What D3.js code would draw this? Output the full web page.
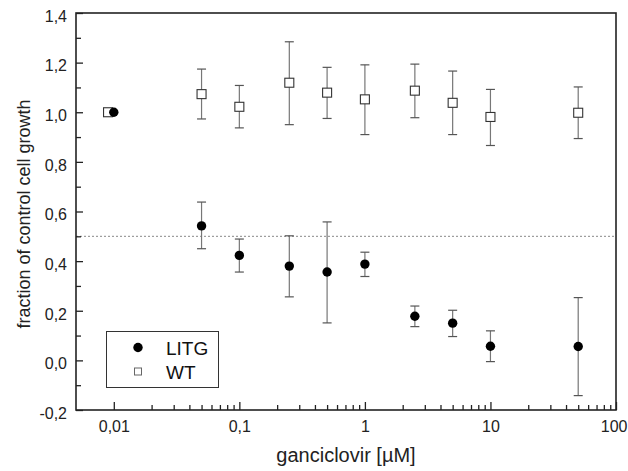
<!DOCTYPE html>
<html>
<head>
<meta charset="utf-8">
<script src="https://cdn.jsdelivr.net/npm/d3@7"></script>
<style>
  html, body { margin: 0; padding: 0; background: #fff; }
  svg { display: block; font-family: "Liberation Sans", Arial, sans-serif; }
</style>
</head>
<body>
<svg id="chart" width="628" height="471"></svg>
<script>
// Ganciclovir concentrations (µM)
const litgDose = [0.01, 0.05, 0.1, 0.25, 0.5, 1, 2.5, 5, 10, 50];
const litgMean = [1.0, 0.542, 0.423, 0.380, 0.356, 0.388, 0.178, 0.150, 0.057, 0.056];
const litgLow  = [1.0, 0.450, 0.356, 0.256, 0.151, 0.338, 0.136, 0.096, -0.005, -0.142];
const litgHigh = [1.0, 0.638, 0.489, 0.502, 0.558, 0.436, 0.219, 0.202, 0.119, 0.253];

const wtDose = [0.009, 0.05, 0.1, 0.25, 0.5, 1, 2.5, 5, 10, 50];
const wtMean = [1.0, 1.073, 1.022, 1.119, 1.079, 1.052, 1.087, 1.038, 0.981, 0.998];
const wtLow  = [1.0, 0.973, 0.937, 0.950, 0.975, 0.910, 0.978, 0.910, 0.866, 0.894];
const wtHigh = [1.0, 1.174, 1.108, 1.284, 1.181, 1.191, 1.194, 1.166, 1.092, 1.102];

const xMajorTicks = [0.01, 0.1, 1, 10, 100];
const xMajorLabels = ["0,01", "0,1", "1", "10", "100"];
const yMajorTicks = [-0.2, 0, 0.2, 0.4, 0.6, 0.8, 1.0, 1.2, 1.4];
const yMajorLabels = ["-0,2", "0,0", "0,2", "0,4", "0,6", "0,8", "1,0", "1,2", "1,4"];
const halfGrowth = 0.5;

const W = 628, H = 471;
const margin = { top: 13, right: 12, bottom: 61, left: 76 };
const svg = d3.select("#chart");

const x = d3.scaleLog().domain([0.005, 100]).range([margin.left, W - margin.right]);
const y = d3.scaleLinear().domain([-0.2, 1.4]).range([H - margin.bottom, margin.top]);

const axisColor = "#222";
const errColor = "#777";
const font = "'Liberation Sans', Arial, sans-serif";

// 50% reference line
svg.append("line")
  .attr("x1", x.range()[0]).attr("x2", x.range()[1])
  .attr("y1", y(halfGrowth)).attr("y2", y(halfGrowth))
  .attr("stroke", "#888").attr("stroke-width", 1)
  .attr("stroke-dasharray", "2,2");

// Bottom axis: ticks point inward
const xMinor = [];
for (let dec = 0.01; dec < 100; dec *= 10) {
  for (let m = 2; m <= 9; m++) xMinor.push(+(dec * m).toPrecision(3));
}
const xAxisMinor = d3.axisBottom(x).tickValues(xMinor).tickSize(-5).tickFormat("");
const xAxisMajor = d3.axisBottom(x).tickValues(xMajorTicks).tickSize(-8)
  .tickFormat((d, i) => xMajorLabels[i]).tickPadding(11);

const gxMinor = svg.append("g").attr("transform", `translate(0,${y.range()[0]})`).call(xAxisMinor);
const gx = svg.append("g").attr("transform", `translate(0,${y.range()[0]})`).call(xAxisMajor);
[gxMinor, gx].forEach(g => {
  g.select(".domain").remove();
  g.selectAll(".tick line").attr("stroke", axisColor).attr("stroke-width", 1.3);
});
gx.selectAll(".tick text").attr("font-size", 16).attr("fill", axisColor).attr("font-family", font);
// keep the last label inside the page edge
gx.selectAll(".tick text").filter(d => d === 100)
  .attr("text-anchor", "end").attr("x", W - 1 - x(100));

// Left axis: ticks point inward
const yMinor = d3.range(-0.1, 1.4, 0.2).map(v => +v.toFixed(2));
const yAxisMinor = d3.axisLeft(y).tickValues(yMinor).tickSize(-5).tickFormat("");
const yAxisMajor = d3.axisLeft(y).tickValues(yMajorTicks).tickSize(-7)
  .tickFormat((d, i) => yMajorLabels[i]).tickPadding(9);

const gyMinor = svg.append("g").attr("transform", `translate(${x.range()[0]},0)`).call(yAxisMinor);
const gy = svg.append("g").attr("transform", `translate(${x.range()[0]},0)`).call(yAxisMajor);
[gyMinor, gy].forEach(g => {
  g.select(".domain").remove();
  g.selectAll(".tick line").attr("stroke", axisColor).attr("stroke-width", 1.3);
});
gy.selectAll(".tick text").attr("font-size", 16).attr("fill", axisColor)
  .attr("font-family", font).attr("dy", "0.52em");

// Frame around the plot area
svg.append("rect")
  .attr("x", x.range()[0]).attr("y", y.range()[1])
  .attr("width", x.range()[1] - x.range()[0])
  .attr("height", y.range()[0] - y.range()[1])
  .attr("fill", "none").attr("stroke", axisColor).attr("stroke-width", 1.6);

// Error bars
function errorBars(dose, low, high) {
  const g = svg.append("g");
  dose.forEach((d, i) => {
    if (low[i] === high[i]) return;
    const cx = x(d);
    g.append("line").attr("x1", cx).attr("x2", cx)
      .attr("y1", y(low[i])).attr("y2", y(high[i]))
      .attr("stroke", errColor).attr("stroke-width", 1.2);
    [low[i], high[i]].forEach(v => {
      g.append("line").attr("x1", cx - 4.5).attr("x2", cx + 4.5)
        .attr("y1", y(v)).attr("y2", y(v))
        .attr("stroke", "#555").attr("stroke-width", 1.2);
    });
  });
}
errorBars(wtDose, wtLow, wtHigh);
errorBars(litgDose, litgLow, litgHigh);

// WT: open squares
svg.append("g").selectAll("rect")
  .data(wtDose.map((d, i) => [d, wtMean[i]]))
  .join("rect")
  .attr("x", d => x(d[0]) - 4.5).attr("y", d => y(d[1]) - 4.5)
  .attr("width", 9).attr("height", 9)
  .attr("fill", "#fff").attr("stroke", "#333").attr("stroke-width", 1.1);

// LITG: filled circles
svg.append("g").selectAll("circle")
  .data(litgDose.map((d, i) => [d, litgMean[i]]))
  .join("circle")
  .attr("cx", d => x(d[0])).attr("cy", d => y(d[1]))
  .attr("r", 4.7).attr("fill", "#000");

// Legend
const lg = svg.append("g");
lg.append("rect").attr("x", 106.5).attr("y", 331.5).attr("width", 112).attr("height", 56)
  .attr("fill", "#fff").attr("stroke", "#333").attr("stroke-width", 1);
lg.append("circle").attr("cx", 138).attr("cy", 347.5).attr("r", 4.7).attr("fill", "#000");
lg.append("rect").attr("x", 134.5).attr("y", 368).attr("width", 7).attr("height", 7)
  .attr("fill", "#fff").attr("stroke", "#666").attr("stroke-width", 1);
lg.append("text").attr("x", 166).attr("y", 354.5).attr("font-size", 19).attr("fill", "#111").text("LITG");
lg.append("text").attr("x", 166).attr("y", 378.5).attr("font-size", 19).attr("fill", "#111").text("WT");

// Axis titles
svg.append("text")
  .attr("x", (x.range()[0] + x.range()[1]) / 2).attr("y", 462)
  .attr("text-anchor", "middle").attr("font-size", 20).attr("fill", axisColor)
  .text("ganciclovir [µM]");
svg.append("text")
  .attr("transform", `translate(30,214) rotate(-90)`)
  .attr("text-anchor", "middle").attr("font-size", 18).attr("fill", axisColor)
  .text("fraction of control cell growth");
</script>
</body>
</html>
